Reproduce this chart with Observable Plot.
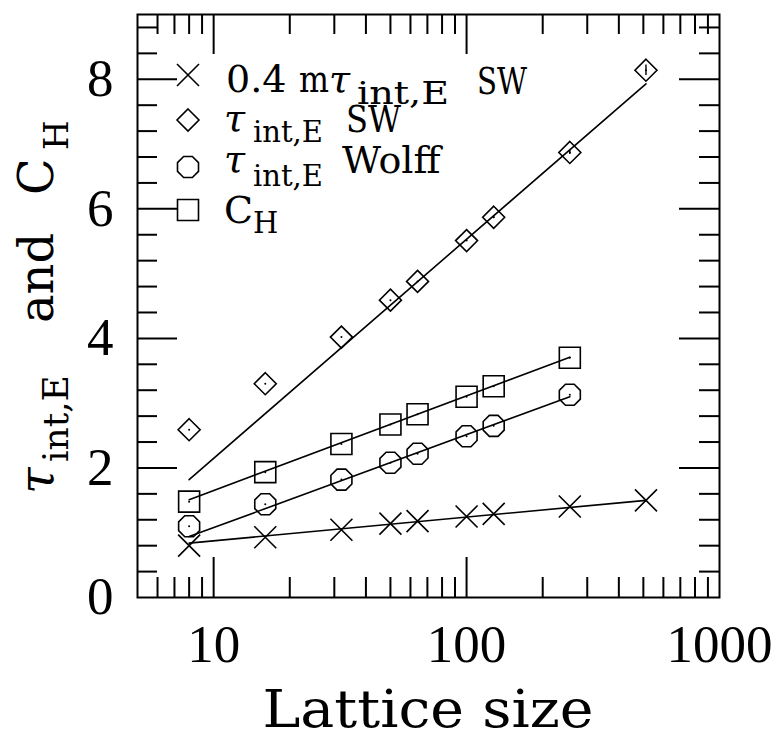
<!DOCTYPE html>
<html><head><meta charset="utf-8">
<script src="https://cdn.jsdelivr.net/npm/d3@7"></script>
<script src="https://cdn.jsdelivr.net/npm/@observablehq/plot@0.6"></script>
<style>html,body{margin:0;padding:0;background:#fff}</style>
</head><body><div id="chart"></div>
<script>
// ---- data ----
const latticeSW = [8, 16, 32, 50, 64, 100, 128, 256, 512];
const mTauSW    = [0.80, 0.93, 1.045, 1.14, 1.18, 1.25, 1.29, 1.405, 1.50];   // 0.4 m tau_int,E SW
const tauSW     = [2.59, 3.30, 4.02, 4.59, 4.88, 5.51, 5.87, 6.87, 8.14];    // tau_int,E SW
const tauSWerr  = [0, 0, 0, 0, 0, 0.01, 0.02, 0.03, 0.08];
const latticeW  = [8, 16, 32, 50, 64, 100, 128, 256];
const tauWolff  = [1.10, 1.44, 1.82, 2.08, 2.22, 2.49, 2.65, 3.13];         // tau_int,E Wolff
const CH        = [1.48, 1.935, 2.37, 2.67, 2.83, 3.10, 3.26, 3.70];        // C_H

// fitted lines (end points)
const fitSWx     = [8, 512];
const fitMTauSW  = [0.84, 1.50];
const fitTauSW   = [1.82, 7.93];
const fitWx      = [8, 256];
const fitTauW    = [0.94, 3.10];
const fitCH      = [1.51, 3.71];

// ticks
const xLabels = [10, 100, 1000];
const xMajor  = [10, 100];
const xMinor  = [6, 7, 8, 9, 20, 30, 40, 50, 60, 70, 80, 90, 200, 300, 400, 500, 600, 700, 800, 900];
const yLabels = [0, 2, 4, 6, 8];
const yMajor  = [2, 4, 6, 8];
const yMinor  = [0.4, 0.8, 1.2, 1.6, 2.4, 2.8, 3.2, 3.6, 4.4, 4.8, 5.2, 5.6, 6.4, 6.8, 7.2, 7.6, 8.4, 8.8];

// ---- custom symbols ----
const rad = s => Math.sqrt(s / Math.PI);
const symTimes = {draw(c, s) { const r = rad(s); c.moveTo(-r, -r); c.lineTo(r, r); c.moveTo(-r, r); c.lineTo(r, -r); }};
const symDiamond = {draw(c, s) { const r = rad(s); c.moveTo(0, -r); c.lineTo(r, 0); c.lineTo(0, r); c.lineTo(-r, 0); c.closePath(); }};
const symOct = {draw(c, s) { const r = rad(s), R = r / Math.cos(Math.PI / 8);
  for (let k = 0; k < 8; k++) { const a = Math.PI / 8 + k * Math.PI / 4; const x = R * Math.cos(a), y = R * Math.sin(a); k ? c.lineTo(x, y) : c.moveTo(x, y); }
  c.closePath(); }};
const symSquare = {draw(c, s) { const r = rad(s); c.rect(-r, -r, 2 * r, 2 * r); }};

const W = 783, H = 752, mT = 14, mR = 64, mB = 155, mL = 137;
const pW = W - mL - mR, pH = H - mT - mB;
const minorLen = 20, majorLen = 40;
const NUMFONT = "Liberation Serif, Times New Roman, serif";
const FONT = "DejaVu Serif, serif";
const tw = 2, mw = 1.6;

const dotOpts = (ys, sym, r) => ({x: d => d, y: (d, i) => ys[i], symbol: sym, r, stroke: "black", fill: "none", strokeWidth: mw});

const chart = Plot.plot({
  width: W, height: H,
  marginTop: mT, marginRight: mR, marginBottom: mB, marginLeft: mL,
  x: {type: "log", domain: [5, 1000]},
  y: {domain: [0, 9]},
  style: {fontFamily: NUMFONT, fontSize: "53px", color: "black", background: "white"},
  marks: [
    // inward ticks on all four sides
    Plot.ruleX(xMinor, {x: d => d, insetTop: pH - minorLen, strokeWidth: tw}),
    Plot.ruleX(xMinor, {x: d => d, insetBottom: pH - minorLen, strokeWidth: tw}),
    Plot.ruleX(xMajor, {x: d => d, insetTop: pH - majorLen, strokeWidth: tw}),
    Plot.ruleX(xMajor, {x: d => d, insetBottom: pH - majorLen, strokeWidth: tw}),
    Plot.ruleY(yMinor, {y: d => d, insetRight: pW - minorLen, strokeWidth: tw}),
    Plot.ruleY(yMinor, {y: d => d, insetLeft: pW - minorLen, strokeWidth: tw}),
    Plot.ruleY(yMajor, {y: d => d, insetRight: pW - majorLen, strokeWidth: tw}),
    Plot.ruleY(yMajor, {y: d => d, insetLeft: pW - majorLen, strokeWidth: tw}),
    Plot.frame({strokeWidth: tw}),
    Plot.axisX(xLabels, {tickSize: 0, tickPadding: 27, tickFormat: d => String(d), fontSize: 53, fontFamily: NUMFONT, label: null}),
    Plot.axisY(yLabels, {tickSize: 0, tickPadding: 24, tickFormat: d => String(d), fontSize: 53, fontFamily: NUMFONT, label: null}),
    // fit lines
    Plot.line(fitSWx, {x: d => d, y: (d, i) => fitMTauSW[i], stroke: "black", strokeWidth: 1.6}),
    Plot.line(fitSWx, {x: d => d, y: (d, i) => fitTauSW[i], stroke: "black", strokeWidth: 1.6}),
    Plot.line(fitWx, {x: d => d, y: (d, i) => fitTauW[i], stroke: "black", strokeWidth: 1.6}),
    Plot.line(fitWx, {x: d => d, y: (d, i) => fitCH[i], stroke: "black", strokeWidth: 1.6}),
    // error bars (tiny)
    Plot.ruleX(latticeSW, {x: d => d, y1: (d, i) => tauSW[i] - tauSWerr[i], y2: (d, i) => tauSW[i] + tauSWerr[i], strokeWidth: 1.4}),
    // markers
    Plot.dot(latticeSW, dotOpts(mTauSW, symTimes, 11)),
    Plot.dot(latticeSW, dotOpts(tauSW, symDiamond, 11)),
    Plot.dot(latticeW, dotOpts(tauWolff, symOct, 10.5)),
    Plot.dot(latticeW, dotOpts(CH, symSquare, 10.5)),
    // centre dots
    Plot.dot(latticeSW, {x: d => d, y: (d, i) => tauSW[i], r: 1, fill: "black"}),
    Plot.dot(latticeW, {x: d => d, y: (d, i) => tauWolff[i], r: 1, fill: "black"}),
    Plot.dot(latticeW, {x: d => d, y: (d, i) => CH[i], r: 1, fill: "black"})
  ]
});

document.getElementById("chart").appendChild(chart);
const svg = d3.select(chart);

function txt(g, x, y, size, s, opts = {}) {
  const t = g.append("text").attr("x", x).attr("y", y).attr("font-size", size)
    .attr("font-family", FONT).attr("fill", "black")
    .attr("text-anchor", opts.anchor || "start").text(s);
  if (opts.italic) t.attr("font-style", "italic");
  if (opts.len) t.attr("textLength", opts.len).attr("lengthAdjust", "spacingAndGlyphs");
  return t;
}

// x title
txt(svg, 428, 727, 52, "Lattice size", {anchor: "middle", len: 331});

// y title (rotated)
const gy = svg.append("g").attr("transform", "translate(53,0) rotate(-90)");
txt(gy, -494, 0, 48, "τ", {italic: true});
txt(gy, -462, 15, 36, "int,E");
txt(gy, -323, 0, 48, "and");
txt(gy, -195, 0, 48, "C");
txt(gy, -150, 15, 34, "H");

// legend
const gl = svg.append("g");
const legendSyms = [[symTimes, 11, 75], [symDiamond, 11, 120], [symOct, 10.5, 167], [symSquare, 10.5, 210]];
legendSyms.forEach(([sym, r, y]) => {
  const p = d3.path(); sym.draw(p, r * r * Math.PI);
  gl.append("path").attr("transform", `translate(188,${y})`).attr("d", p.toString())
    .attr("fill", "none").attr("stroke", "black").attr("stroke-width", mw);
});
// row 1
txt(gl, 226, 92, 38, "0.4");
txt(gl, 299, 92, 38, "m", {len: 30});
txt(gl, 329, 92, 38, "τ", {italic: true});
txt(gl, 357, 104, 32, "int,E", {len: 92});
txt(gl, 477, 94, 38, "SW", {len: 50});
// row 2
txt(gl, 224, 131, 38, "τ", {italic: true});
txt(gl, 253, 142, 29, "int,E");
txt(gl, 346, 132, 38, "SW", {len: 55});
// row 3
txt(gl, 224, 172, 38, "τ", {italic: true});
txt(gl, 253, 186, 29, "int,E");
txt(gl, 342, 173, 38, "Wolff");
// row 4
txt(gl, 224, 223, 38, "C");
txt(gl, 253, 233, 29, "H");
</script>
</body></html>
